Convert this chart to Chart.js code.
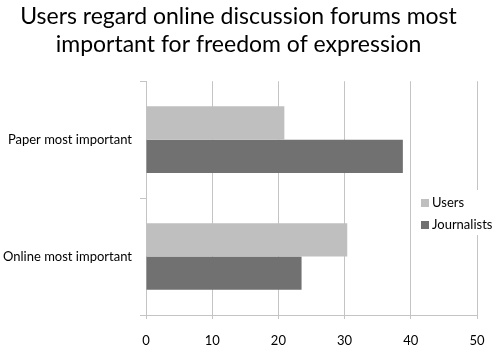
<!DOCTYPE html>
<html lang="en">
<head>
<meta charset="utf-8">
<script src="https://cdn.jsdelivr.net/npm/chart.js"></script>
<style>
  html, body { margin: 0; padding: 0; background: #fff; }
  #chart { display: block; }
</style>
</head>
<body>
<canvas id="chart" width="492" height="347"></canvas>

<script>
    // data
    const categories = ['Paper most important', 'Online most important'];
    const seriesNames = ['Users', 'Journalists'];
    const usersValues = [20.9, 30.4];
    const journalistsValues = [38.8, 23.5];
    const xTickValues = [0, 10, 20, 30, 40, 50];
    const titleLines = ['Users regard online discussion forums most', 'important for freedom of expression'];

    const FONT = 'Lato, "Open Sans", sans-serif';
    const gridGrey = '#c4c4c4';

    // legend drawn on top of the plot, with a white box behind it
    const boxLegend = {
        id: 'boxLegend',
        afterDraw(chart) {
            const c = chart.ctx;
            const area = chart.chartArea;
            const x0 = area.right - 56, y0 = 190;
            c.save();
            c.fillStyle = '#fff';
            c.fillRect(x0 - 6, y0, 492 - x0 + 6, 45);
            c.font = '13px ' + FONT;
            c.textBaseline = 'middle';
            chart.data.datasets.forEach((ds, i) => {
                const cy = y0 + 13 + i * 22;
                c.fillStyle = ds.backgroundColor;
                c.fillRect(x0, cy - 4, 8, 8);
                c.fillStyle = '#000';
                c.fillText(ds.label, x0 + 11, cy);
            });
            c.restore();
        }
    };

    var ctx = document.getElementById('chart').getContext('2d');
    var chart = new Chart(ctx, {
        type: 'bar',
        data: {
            labels: categories,
            datasets: [
                { label: seriesNames[0], data: usersValues, backgroundColor: '#bfbfbf' },
                { label: seriesNames[1], data: journalistsValues, backgroundColor: '#717171' }
            ]
        },
        options: {
            indexAxis: 'y',
            responsive: false,
            animation: false,
            datasets: { bar: { barPercentage: 1, categoryPercentage: 0.57 } },
            layout: { padding: { left: 0, right: 15, top: 0, bottom: 0 } },
            scales: {
                x: {
                    min: 0, max: 50,
                    afterBuildTicks: s => { s.ticks = xTickValues.map(v => ({ value: v })); },
                    afterFit: s => { s.height = 32; s.paddingLeft = 0; s.paddingRight = 0; },
                    grid: { color: gridGrey, tickLength: 4 },
                    border: { color: gridGrey },
                    ticks: { color: '#000', padding: 14, font: { family: FONT, size: 13 } }
                },
                y: {
                    afterFit: s => { s.width = 146; s.paddingTop = 0; s.paddingBottom = 0; },
                    grid: { drawOnChartArea: false, color: gridGrey, tickLength: 6 },
                    border: { color: gridGrey },
                    ticks: { color: '#000', padding: 8, font: { family: FONT, size: 13 } }
                }
            },
            plugins: {
                legend: { display: false },
                tooltip: { enabled: false },
                title: {
                    display: true,
                    text: titleLines,
                    color: '#000',
                    font: { family: FONT, size: 23, weight: 'normal', lineHeight: 1.2 },
                    padding: { top: 3, bottom: 23 }
                }
            }
        },
        plugins: [boxLegend]
    });
</script>
</body>
</html>
